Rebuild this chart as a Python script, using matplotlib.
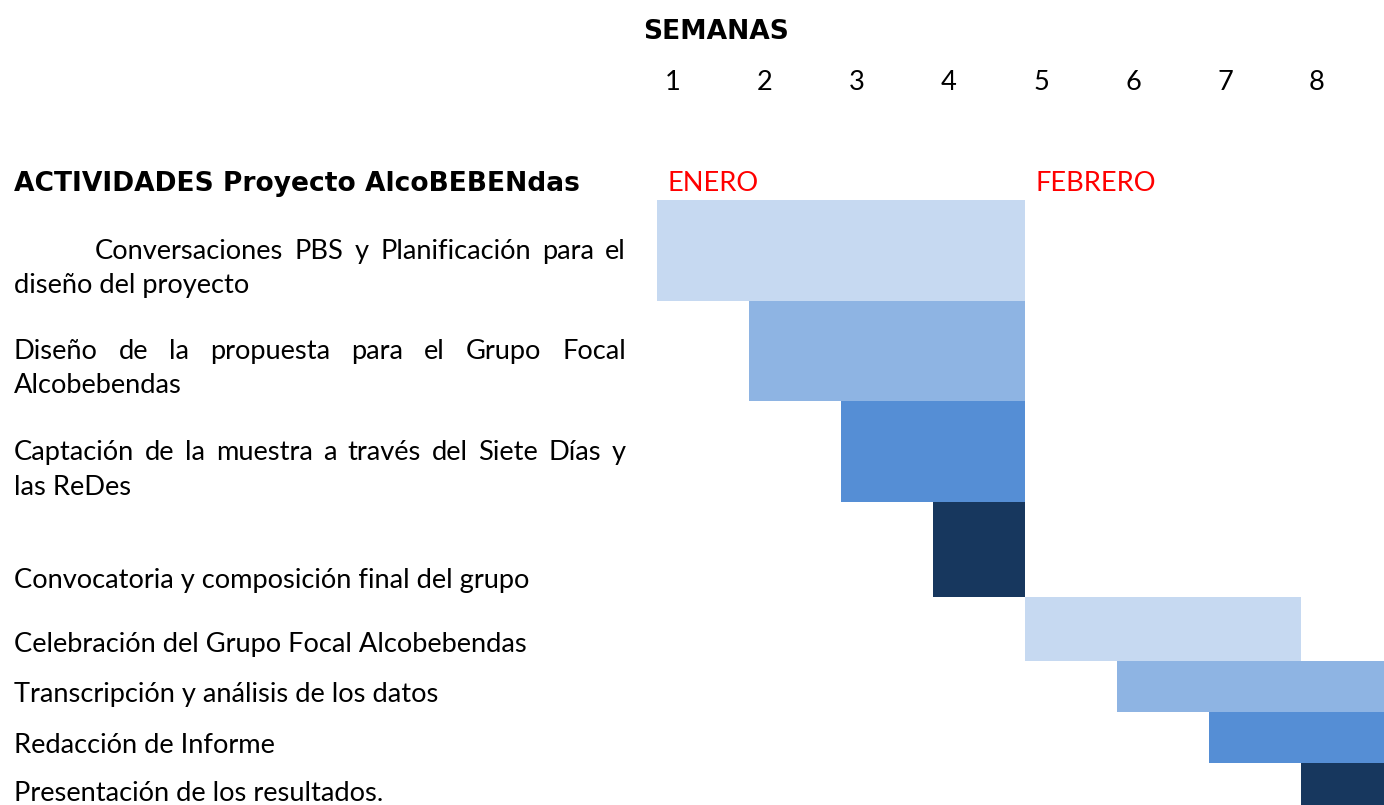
import matplotlib
matplotlib.use("Agg")
import matplotlib.pyplot as plt
from matplotlib.transforms import blended_transform_factory

# ---------------- data ----------------
weeks = [1, 2, 3, 4, 5, 6, 7, 8]
months = ["ENERO", "FEBRERO"]
month_start_week = [1, 5]
title_left = "ACTIVIDADES Proyecto AlcoBEBENdas"
title_top = "SEMANAS"

activities = [
    "Conversaciones PBS y Planificación para el diseño del proyecto",
    "Diseño de la propuesta para el Grupo Focal Alcobebendas",
    "Captación de la muestra a través del Siete Días y las ReDes",
    "Convocatoria y composición final del grupo",
    "Celebración del Grupo Focal Alcobebendas",
    "Transcripción y análisis de los datos",
    "Redacción de Informe",
    "Presentación de los resultados.",
]
start_week = [1, 2, 3, 4, 5, 6, 7, 8]
end_week = [4, 4, 4, 4, 7, 8, 8, 8]

# label lines as laid out in the reference (justified lines flagged)
label_lines = [
    [("Conversaciones PBS y Planificación para el", True, 81), ("diseño del proyecto", False, 0)],
    [("Diseño de la propuesta para el Grupo Focal", True, 0), ("Alcobebendas", False, 0)],
    [("Captación de la muestra a través del Siete Días y", True, 0), ("las ReDes", False, 0)],
    [("", False, 0), ("Convocatoria y composición final del grupo", False, 0)],
    [("Celebración del Grupo Focal Alcobebendas", False, 0)],
    [("Transcripción y análisis de los datos", False, 0)],
    [("Redacción de Informe", False, 0)],
    [("Presentación de los resultados.", False, 0)],
]

colors = ["#C6D9F1", "#8EB4E3", "#558ED5", "#17375E",
          "#C6D9F1", "#8EB4E3", "#558ED5", "#17375E"]

# ---------------- layout (pixels) ----------------
W, H = 1384, 805
row_heights = [101, 100, 101, 95, 64, 51, 51, 51]
gantt_top = 200
grid_left = 657
week_px = 92
line_baselines = [[259, 293], [359, 393], [460, 495], [None, 588], [652], [702], [753], [801]]
text_left, text_right = 14, 626
FONT = ["Lato", "DejaVu Sans"]
BFONT = ["DejaVu Sans"]

fig = plt.figure(figsize=(W / 100, H / 100), dpi=100)
over = fig.add_axes([0, 0, 1, 1])
over.set_xlim(0, W)
over.set_ylim(H, 0)
over.axis("off")

gax = fig.add_axes([grid_left / W, 0, (W - grid_left) / W, (H - gantt_top) / H])
gax.set_xlim(0, (W - grid_left) / week_px)
gax.set_ylim(H - gantt_top, 0)
gax.axis("off")
gax.set_zorder(0)
over.set_zorder(1)
over.patch.set_alpha(0)

renderer = fig.canvas.get_renderer()


def fit_size(s, target, family, weight="normal", base=20.0):
    t = over.text(0, 0, s, fontsize=base, family=family, fontweight=weight)
    w = t.get_window_extent(renderer).width
    t.remove()
    return base * target / w


FS = min(fit_size("Celebración del Grupo Focal Alcobebendas", 516, FONT), 20.0)
BFS = fit_size(title_left, 566, BFONT, "bold")

# bars
tops = []
acc = 0
for h in row_heights:
    tops.append(acc)
    acc += h
for i in range(len(activities)):
    gax.barh(tops[i] + row_heights[i] / 2, end_week[i] - start_week[i] + 1,
             left=start_week[i] - 1, height=row_heights[i],
             color=colors[i], edgecolor="none", linewidth=0)

# week numbers and months
btr = blended_transform_factory(gax.transData, over.transData)
for w in weeks:
    gax.text(w - 1 + 16 / week_px, 90, str(w), transform=btr, ha="center",
             va="baseline", fontsize=FS, family=FONT, color="black", clip_on=False)
for m, sw in zip(months, month_start_week):
    gax.text(sw - 1 + 11 / week_px, 191, m, transform=btr, ha="left",
             va="baseline", fontsize=FS, family=FONT, color="#FF0000", clip_on=False)

over.text(643, 39, title_top, ha="left", va="baseline", fontsize=BFS,
          fontweight="bold", family=BFONT, color="black")
over.text(text_left, 191, title_left, ha="left", va="baseline", fontsize=BFS,
          fontweight="bold", family=BFONT, color="black")


def justify(words, x0, x1, y):
    ts = [over.text(0, y, w, ha="left", va="baseline", fontsize=FS,
                    family=FONT, color="black") for w in words]
    widths = [t.get_window_extent(renderer).width for t in ts]
    gap = (x1 - x0 - sum(widths)) / (len(ts) - 1)
    x = x0
    for t, wd in zip(ts, widths):
        t.set_x(x)
        x += wd + gap


for lines, bases in zip(label_lines, line_baselines):
    for (txt, just, indent), yb in zip(lines, bases):
        if not txt:
            continue
        if just:
            justify(txt.split(" "), text_left + indent, text_right, yb)
        else:
            over.text(text_left, yb, txt, ha="left", va="baseline", fontsize=FS,
                      family=FONT, color="black")

fig.savefig("out.png", dpi=100)
